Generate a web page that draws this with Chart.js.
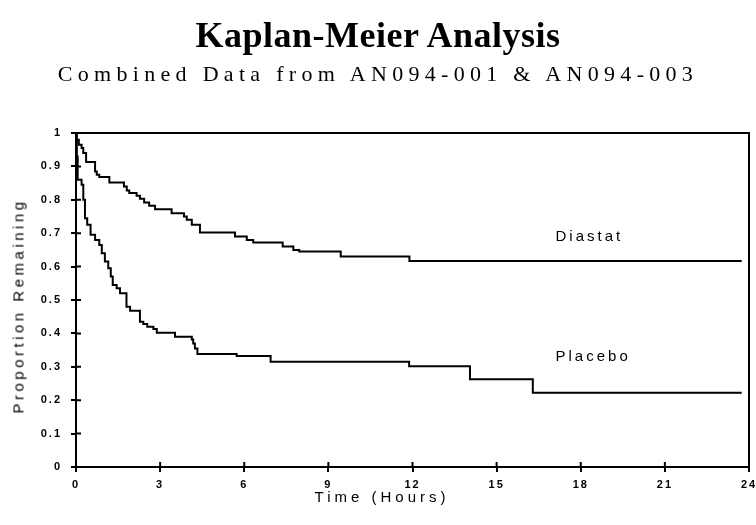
<!DOCTYPE html>
<html>
<head>
<meta charset="utf-8">
<script src="https://cdn.jsdelivr.net/npm/chart.js@4/dist/chart.umd.min.js"></script>
<style>
  html, body { margin: 0; padding: 0; background: #fff; }
  #wrap { position: relative; width: 756px; height: 525px; overflow: hidden; background: #fff; }
  #km { position: absolute; left: 0; top: 0; }
  .txt { position: absolute; white-space: nowrap; color: #000; line-height: 1; }
  #title { left: 0; width: 756px; top: 14px; text-align: center; font: bold 36px 'Liberation Serif', 'Times New Roman', serif; letter-spacing: 0.5px; }
  #sub { left: 0; width: 756px; top: 61px; text-align: center; font: 22px 'Liberation Serif', 'Times New Roman', serif; letter-spacing: 5.3px; }
  #ytitle { left: 18px; top: 306px; transform: translate(-50%, -50%) rotate(-90deg); font: 15px 'Liberation Sans', Arial, sans-serif; letter-spacing: 3.5px; }
  #xtitle { left: 382px; top: 496px; transform: translate(-50%, -50%); font: 15px 'Liberation Sans', Arial, sans-serif; letter-spacing: 4px; }
</style>
</head>
<body>
<div id="wrap">
  <canvas id="km" width="756" height="525"></canvas>
  <div class="txt" id="title">Kaplan-Meier Analysis</div>
  <div class="txt" id="sub">Combined Data from AN094-001 &amp; AN094-003</div>
  <div class="txt" id="ytitle">Proportion Remaining</div>
  <div class="txt" id="xtitle">Time (Hours)</div>
</div>
<script>
Chart.defaults.font.family = "'Liberation Sans', Arial, sans-serif";
Chart.defaults.color = '#000';

// Kaplan-Meier steps (hours, proportion remaining)
const diastatTime = [0, 0.02, 0.1, 0.2, 0.26, 0.36, 0.68, 0.74, 0.83, 1.19,
  1.71, 1.81, 1.9, 2.16, 2.28, 2.43, 2.61, 2.82, 3.41, 3.85,
  3.95, 4.13, 4.42, 5.67, 6.09, 6.32, 7.37, 7.75, 7.96, 9.44,
  11.89, 23.74];
const diastatSurv = [1, 0.98, 0.965, 0.955, 0.94, 0.913, 0.885, 0.875, 0.868, 0.852,
  0.84, 0.828, 0.82, 0.812, 0.803, 0.792, 0.782, 0.772, 0.76, 0.75,
  0.74, 0.725, 0.702, 0.69, 0.68, 0.672, 0.66, 0.65, 0.645, 0.63,
  0.617, 0.617];

const placeboTime = [0, 0.03, 0.06, 0.2, 0.26, 0.32, 0.4, 0.52, 0.68, 0.83,
  0.92, 1.03, 1.15, 1.24, 1.31, 1.45, 1.57, 1.8, 1.93, 2.28,
  2.4, 2.54, 2.76, 2.88, 3.53, 4.13, 4.18, 4.24, 4.33, 5.73,
  6.94, 11.88, 14.05, 16.29, 23.74];
const placeboSurv = [1, 0.93, 0.86, 0.845, 0.8, 0.745, 0.725, 0.695, 0.68, 0.665,
  0.64, 0.615, 0.595, 0.57, 0.545, 0.535, 0.52, 0.48, 0.468, 0.435,
  0.428, 0.42, 0.413, 0.402, 0.39, 0.382, 0.37, 0.355, 0.338, 0.332,
  0.315, 0.302, 0.263, 0.222, 0.222];

const seriesNames = ['Diastat', 'Placebo'];
const xTicks = [0, 3, 6, 9, 12, 15, 18, 21, 24];
const yTicks = [0, 0.1, 0.2, 0.3, 0.4, 0.5, 0.6, 0.7, 0.8, 0.9, 1];
const yTickLabels = ['0', '0.1', '0.2', '0.3', '0.4', '0.5', '0.6', '0.7', '0.8', '0.9', '1'];

function toPoints(t, s) {
  return t.map((v, i) => ({ x: v, y: s[i] }));
}

// box round the plot + tick marks that cross into the plot
const frame = {
  id: 'frame',
  beforeDraw(chart) {
    chart.ctx.letterSpacing = '2px';
  },
  afterDraw(chart) {
    const { ctx, chartArea: a, scales } = chart;
    ctx.save();
    ctx.strokeStyle = '#000';
    ctx.lineWidth = 2;
    ctx.beginPath();
    ctx.moveTo(a.left, a.top);
    ctx.lineTo(a.right, a.top);
    ctx.lineTo(a.right, a.bottom);
    scales.x.ticks.forEach((t, i) => {
      const px = scales.x.getPixelForTick(i);
      ctx.moveTo(px, a.bottom);
      ctx.lineTo(px, a.bottom - 5);
    });
    scales.y.ticks.forEach((t, i) => {
      const py = scales.y.getPixelForTick(i);
      ctx.moveTo(a.left, py);
      ctx.lineTo(a.left + 5, py);
    });
    ctx.stroke();

    // series names next to the curves
    ctx.font = "15px 'Liberation Sans', Arial, sans-serif";
    ctx.letterSpacing = '3px';
    ctx.fillStyle = '#000';
    ctx.textAlign = 'left';
    ctx.textBaseline = 'alphabetic';
    ctx.fillText(seriesNames[0], scales.x.getPixelForValue(17.1), scales.y.getPixelForValue(0.678));
    ctx.fillText(seriesNames[1], scales.x.getPixelForValue(17.1), scales.y.getPixelForValue(0.318));
    ctx.restore();
  }
};

const lineStyle = {
  borderColor: '#000',
  borderWidth: 2,
  pointRadius: 0,
  fill: false,
  stepped: true,
};

new Chart(document.getElementById('km'), {
  type: 'line',
  data: {
    datasets: [
      { label: seriesNames[0], data: toPoints(diastatTime, diastatSurv), ...lineStyle },
      { label: seriesNames[1], data: toPoints(placeboTime, placeboSurv), ...lineStyle },
    ]
  },
  options: {
    responsive: false,
    animation: false,
    layout: { padding: { left: 0, top: 133, right: 7, bottom: 0 } },
    plugins: { legend: { display: false }, tooltip: { enabled: false } },
    scales: {
      x: {
        type: 'linear',
        min: 0,
        max: 24,
        afterBuildTicks: s => { s.ticks = xTicks.map(v => ({ value: v })); },
        afterFit: s => { s.height = 58; s.paddingLeft = 0; s.paddingRight = 0; },
        ticks: { font: { size: 11, weight: 'bold' }, padding: 6, maxRotation: 0 },
        grid: { drawOnChartArea: false, color: '#000', lineWidth: 2, tickLength: 5 },
        border: { color: '#000', width: 2 },
      },
      y: {
        min: 0,
        max: 1,
        afterBuildTicks: s => { s.ticks = yTicks.map(v => ({ value: v })); },
        afterFit: s => { s.width = 76; s.paddingTop = 0; s.paddingBottom = 0; },
        ticks: {
          font: { size: 11, weight: 'bold' },
          padding: 9,
          callback: (v, i) => yTickLabels[i],
        },
        grid: { drawOnChartArea: false, color: '#000', lineWidth: 2, tickLength: 5 },
        border: { color: '#000', width: 2 },
      }
    }
  },
  plugins: [frame]
});
</script>
</body>
</html>
